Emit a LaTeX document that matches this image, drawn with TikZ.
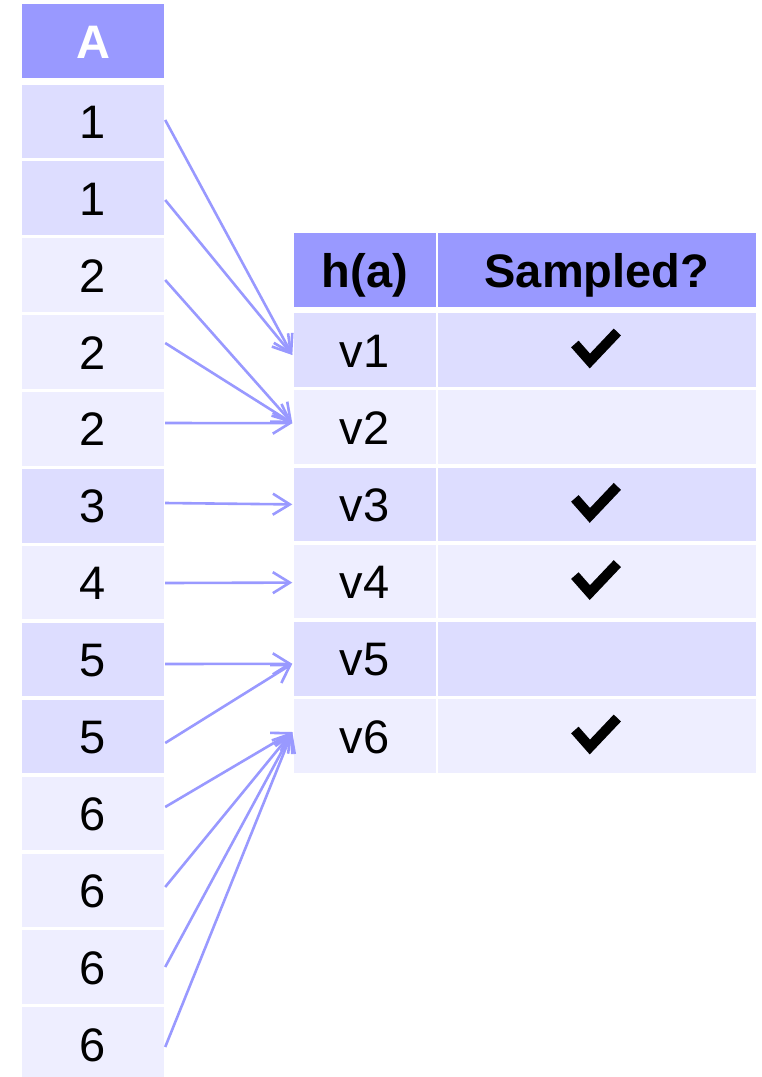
\documentclass[tikz,border=0pt]{standalone}
\usepackage{fontspec}
\setmainfont{Liberation Sans}
\usetikzlibrary{arrows.meta,calc}

\definecolor{hdr}{HTML}{9999FF}
\definecolor{rowdark}{HTML}{DDDDFF}
\definecolor{rowlight}{HTML}{EEEEFF}
\definecolor{link}{HTML}{9999FF}

\tikzset{
  cellbase/.style={inner sep=0pt, text height=34pt, text depth=0pt,
    font=\fontsize{47}{50}\selectfont},
  colcell/.style={cellbase, minimum width=142pt, minimum height=73.5pt},
  keycell/.style={cellbase, minimum width=141.5pt, minimum height=73.5pt},
  flagcell/.style={cellbase, minimum width=317.5pt, minimum height=73.5pt},
  headfill/.style={fill=hdr, font=\fontsize{47}{50}\selectfont\bfseries},
  darkfill/.style={fill=rowdark},
  lightfill/.style={fill=rowlight},
  link/.style={draw=link, line width=2.6pt,
    -{Straight Barb[length=17pt,width=21pt,line width=2.6pt]}},
  tick/.pic={
    \draw[line width=10pt, line join=miter, line cap=butt]
      (-22,6) -- (-7,-11) -- (20.5,18);
  }
}

\begin{document}
\begin{tikzpicture}[x=1pt,y=1pt]
  \useasboundingbox (0,0) rectangle (761,-1077);

  % column A (values)
  \node[colcell, headfill, text=white] (hA) at (93,-41) {A};
  \foreach \i/\v/\s in {1/1/darkfill, 2/1/darkfill, 3/2/lightfill,
      4/2/lightfill, 5/2/lightfill, 6/3/darkfill, 7/4/lightfill,
      8/5/darkfill, 9/5/darkfill, 10/6/lightfill, 11/6/lightfill,
      12/6/lightfill, 13/6/lightfill} {
    \node[colcell, \s] (a\i) at (93,{-121.3-76.9*(\i-1)}) {\v};
  }

  % hash table
  \node[keycell, headfill] (hh) at (364.75,-270) {h(a)};
  \node[flagcell, headfill] (hs) at (596.85,-270) {Sampled?};
  \foreach \j/\s in {1/darkfill, 2/lightfill, 3/darkfill,
      4/lightfill, 5/darkfill, 6/lightfill} {
    \node[keycell, \s] (v\j) at (364.75,{-350-77.2*(\j-1)}) {v\j};
    \node[flagcell, \s] (s\j) at (596.85,{-350-77.2*(\j-1)}) {};
  }

  % sampled marks
  \pic at (s1) {tick};
  \pic at (s3) {tick};
  \pic at (s4) {tick};
  \pic at (s6) {tick};

  % value -> hash links
  \draw[link] ([xshift=1pt,yshift=1.3pt]a1.east)   -- ([xshift=-1.5pt,yshift=-5pt]v1.west);
  \draw[link] ([xshift=1pt,yshift=-1.8pt]a2.east)  -- ([xshift=-1.5pt,yshift=-5pt]v1.west);
  \draw[link] ([xshift=1pt,yshift=-4.9pt]a3.east)  -- ([xshift=-1.5pt,yshift=4pt]v2.west);
  \draw[link] ([xshift=1pt,yshift=9pt]a4.east)     -- ([xshift=-1.5pt,yshift=4pt]v2.west);
  \draw[link] ([xshift=1pt,yshift=5.9pt]a5.east)   -- ([xshift=-1.5pt,yshift=4pt]v2.west);
  \draw[link] ([xshift=1pt,yshift=2.8pt]a6.east)   -- ([xshift=-1.5pt,yshift=0pt]v3.west);
  \draw[link] ([xshift=1pt,yshift=-0.3pt]a7.east)  -- ([xshift=-1.5pt,yshift=-1pt]v4.west);
  \draw[link] ([xshift=1pt,yshift=-4.4pt]a8.east)  -- ([xshift=-1.5pt,yshift=-5pt]v5.west);
  \draw[link] ([xshift=1pt,yshift=-6.5pt]a9.east)  -- ([xshift=-1.5pt,yshift=-5pt]v5.west);
  \draw[link] ([xshift=1pt,yshift=6.4pt]a10.east)  -- ([xshift=-1.5pt,yshift=4pt]v6.west);
  \draw[link] ([xshift=1pt,yshift=3.3pt]a11.east)  -- ([xshift=-1.5pt,yshift=4pt]v6.west);
  \draw[link] ([xshift=1pt,yshift=0.2pt]a12.east)  -- ([xshift=-1.5pt,yshift=4pt]v6.west);
  \draw[link] ([xshift=1pt,yshift=-2.9pt]a13.east) -- ([xshift=-1.5pt,yshift=4pt]v6.west);
\end{tikzpicture}
\end{document}
